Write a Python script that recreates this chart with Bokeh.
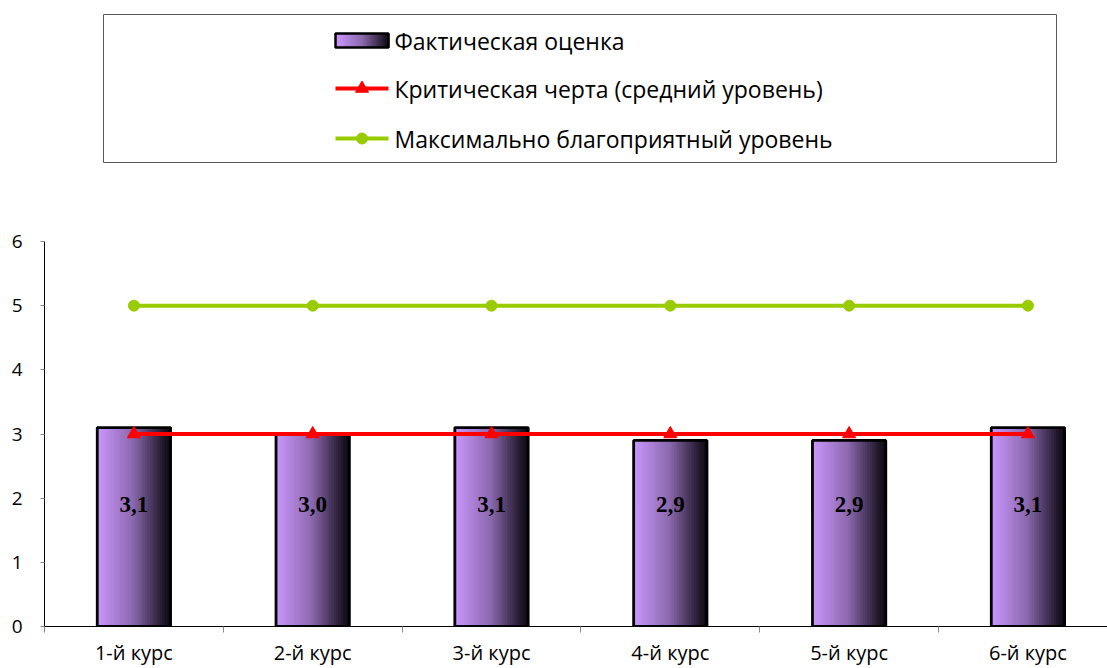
import numpy as np
from bokeh.plotting import figure
from bokeh.models import Range1d, FixedTicker
from bokeh.layouts import column
from bokeh.core.properties import value
from bokeh.embed import file_html
from bokeh.resources import INLINE

# ---- data ----
categories = ["1-й курс", "2-й курс", "3-й курс", "4-й курс", "5-й курс", "6-й курс"]
actual = [3.1, 3.0, 3.1, 2.9, 2.9, 3.1]
critical = [3, 3, 3, 3, 3, 3]
maximal = [5, 5, 5, 5, 5, 5]
y_ticks = [0, 1, 2, 3, 4, 5, 6]
series_names = ["Фактическая оценка", "Критическая черта (средний уровень)",
                "Максимально благоприятный уровень"]

# ---- style ----
FONT = "Open Sans"
C_LIGHT = np.array([204, 153, 255])
C_MID = np.array([140, 105, 175])
C_DARK = np.array([12, 8, 16])
RED = "#FF0000"
GREEN = "#99CC00"


def grad_color(t):
    if t < 0.5:
        c = C_LIGHT + (C_MID - C_LIGHT) * (t / 0.5)
    else:
        c = C_MID + (C_DARK - C_MID) * ((t - 0.5) / 0.5)
    return "#%02x%02x%02x" % tuple(int(round(v)) for v in c)


N_STRIPS = 30
BAR_W = 0.41
FIG_W = 1107
BL, BR = 44, 0  # shared left/right borders so frames align in the column

# ---- main chart ----
xc = np.arange(len(categories)) + 0.5
p = figure(width=FIG_W, height=494, output_backend="svg", toolbar_location=None,
           x_range=Range1d(0, 5.945), y_range=Range1d(0, 6),
           min_border_left=BL, min_border_right=BR, min_border_top=67, min_border_bottom=42)
p.outline_line_color = None
p.grid.visible = False

# gradient bars built from strips
sx, sw, st, sc = [], [], [], []
for x, v in zip(xc, actual):
    for i in range(N_STRIPS):
        t = (i + 0.5) / N_STRIPS
        sx.append(x - BAR_W / 2 + BAR_W * t)
        sw.append(BAR_W / N_STRIPS * 1.6 if i < N_STRIPS - 1 else BAR_W / N_STRIPS)
        st.append(v)
        sc.append(grad_color(t))
p.vbar(x=sx, width=sw, top=st, bottom=0, fill_color=sc, line_color=sc, line_width=0.6)
p.vbar(x=xc, width=BAR_W, top=actual, bottom=0, fill_color=None,
       line_color="black", line_width=2.8)

# value labels
labels = [f"{v:.1f}".replace(".", ",") for v in actual]
p.text(x=xc, y=[1.9] * len(actual), text=labels, text_align="center", text_baseline="middle",
       text_font=value("Liberation Serif"), text_font_style="bold", text_font_size="23px",
       text_color="black")

# lines
p.line(xc, critical, line_color=RED, line_width=4)
p.scatter(xc, critical, marker="triangle", size=13, fill_color=RED, line_color=RED)
p.line(xc, maximal, line_color=GREEN, line_width=4)
p.scatter(xc, maximal, marker="circle", size=11, fill_color=GREEN, line_color=GREEN)

# axes
xa = p.xaxis[0]
xa.ticker = FixedTicker(ticks=list(xc), minor_ticks=list(range(len(categories) + 1)))
xa.major_label_overrides = {float(x): c for x, c in zip(xc, categories)}
xa.major_tick_line_color = None
xa.major_tick_out = 0
xa.major_tick_in = 0
xa.minor_tick_line_color = "#888888"
xa.minor_tick_out = 6
xa.minor_tick_in = 0
xa.axis_line_color = "black"
xa.major_label_text_font = FONT
xa.major_label_text_font_size = "20px"
xa.major_label_text_color = "black"
xa.major_label_standoff = 6

ya = p.yaxis[0]
ya.ticker = FixedTicker(ticks=y_ticks, minor_ticks=[])
ya.major_tick_line_color = "#888888"
ya.major_tick_out = 4
ya.major_tick_in = 0
ya.minor_tick_line_color = None
ya.axis_line_color = "black"
ya.major_label_text_font = FONT
ya.major_label_text_font_size = "19px"
ya.major_label_text_color = "black"
ya.major_label_standoff = 18

# ---- legend panel (frame spans page x 44..1107, y 0..174) ----
LW, LH = FIG_W - BL - BR, 174
lg = figure(width=FIG_W, height=LH, output_backend="svg", toolbar_location=None,
            x_range=Range1d(0, LW), y_range=Range1d(0, LH),
            min_border_left=BL, min_border_right=BR, min_border_top=0, min_border_bottom=0)
lg.axis.visible = False
lg.grid.visible = False
lg.outline_line_color = None

# legend box
lg.quad(left=[59], right=[1012], bottom=[12], top=[160], fill_color=None,
        line_color="#595959", line_width=1)

g_x0, g_x1 = 291, 344
rows_y = [134, 86, 36]
qs = np.linspace(g_x0, g_x1, N_STRIPS + 1)
lg.quad(left=qs[:-1], right=qs[1:] + 0.8, bottom=rows_y[0] - 7, top=rows_y[0] + 7,
        fill_color=[grad_color((i + 0.5) / N_STRIPS) for i in range(N_STRIPS)], line_color=None)
lg.quad(left=[g_x0], right=[g_x1], bottom=[rows_y[0] - 7], top=[rows_y[0] + 7],
        fill_color=None, line_color="black", line_width=2.5)
lg.line([g_x0, g_x1], [rows_y[1]] * 2, line_color=RED, line_width=4)
lg.scatter([(g_x0 + g_x1) / 2], [rows_y[1]], marker="triangle", size=13, fill_color=RED, line_color=RED)
lg.line([g_x0, g_x1], [rows_y[2]] * 2, line_color=GREEN, line_width=4)
lg.scatter([(g_x0 + g_x1) / 2], [rows_y[2]], marker="circle", size=11, fill_color=GREEN, line_color=GREEN)

lg.text(x=[g_x1 + 6] * 3, y=rows_y, text=series_names, text_align="left", text_baseline="middle",
        text_font=value(FONT), text_font_size="23px", text_color="black")

layout = column(lg, p, spacing=0)
open("out.html", "w").write(file_html(layout, INLINE))
